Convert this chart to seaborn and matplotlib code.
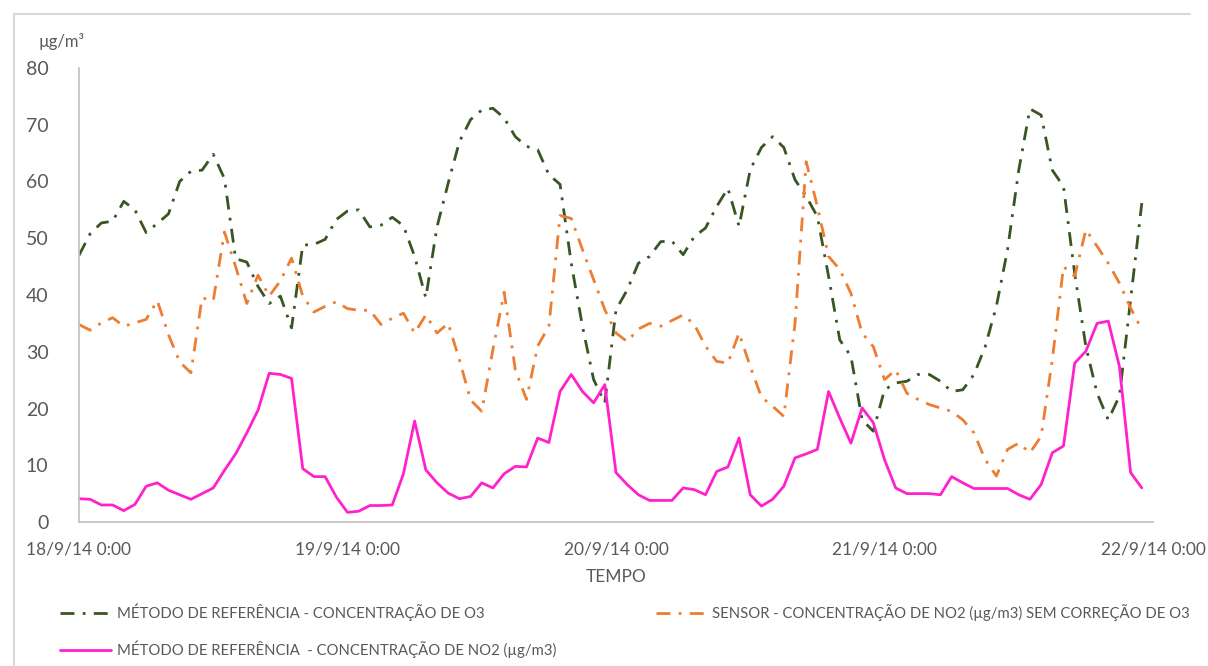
import numpy as np
import pandas as pd
import matplotlib
matplotlib.use('Agg')
import matplotlib.pyplot as plt
import seaborn as sns

# hourly readings, 18/9/14 0:00 onwards (96 hours)
o3_ref = [47.0, 50.8, 52.7, 53.0, 56.5, 55.0, 51.0, 52.6, 54.3, 60.0,
          61.8, 62.0, 64.8, 60.5, 46.4, 45.8, 41.5, 38.5, 39.8, 34.2,
          48.8, 48.9, 49.8, 53.3, 54.8, 55.0, 52.0, 52.3, 53.7, 52.2,
          46.8, 39.5, 52.0, 59.7, 67.0, 70.9, 72.6, 72.9, 71.2, 67.9,
          66.2, 65.6, 61.2, 59.5, 45.6, 34.5, 25.1, 21.0, 37.4, 40.9,
          45.6, 46.8, 49.4, 49.5, 47.1, 50.3, 51.8, 55.6, 58.8, 52.1,
          62.1, 66.0, 67.9, 66.0, 60.3, 57.4, 53.8, 43.3, 32.1, 29.2,
          18.0, 16.0, 23.3, 24.5, 24.8, 26.0, 26.0, 24.8, 23.0, 23.3,
          26.0, 30.9, 38.0, 48.0, 62.0, 72.8, 71.7, 62.0, 59.1, 43.8,
          30.9, 22.7, 18.0, 22.2, 39.2, 56.2]

no2_sensor = [34.8, 33.8, 35.1, 36.0, 34.5, 35.1, 35.7, 39.0, 33.0, 28.2,
              26.3, 39.5, 39.0, 51.1, 45.0, 38.5, 43.5, 39.8, 42.5, 46.5,
              39.8, 37.0, 38.0, 38.8, 37.6, 37.3, 37.3, 34.8, 35.9, 36.8,
              33.3, 36.5, 33.3, 35.0, 28.6, 21.5, 19.5, 30.4, 40.5, 26.8,
              21.6, 31.0, 34.5, 54.0, 53.5, 48.0, 42.7, 37.4, 33.3, 31.8,
              34.0, 35.0, 34.5, 35.5, 36.5, 34.8, 31.0, 28.3, 28.0, 33.3,
              27.4, 22.0, 20.4, 18.6, 35.0, 63.5, 55.6, 46.8, 44.5, 40.3,
              33.3, 30.9, 25.1, 26.8, 22.7, 21.6, 20.7, 20.1, 19.5, 18.0,
              15.7, 11.0, 8.1, 12.8, 13.9, 12.2, 15.1, 28.6, 45.0, 43.3,
              51.5, 48.6, 45.6, 42.1, 37.7, 33.9]

no2_ref = [4.1, 4.0, 3.0, 3.0, 2.0, 3.1, 6.3, 6.9, 5.6, 4.8,
           4.0, 5.0, 6.0, 9.1, 12.0, 15.7, 19.7, 26.2, 26.0, 25.3,
           9.4, 8.0, 8.0, 4.4, 1.7, 1.9, 2.9, 2.9, 3.0, 8.5,
           17.8, 9.2, 6.9, 5.1, 4.1, 4.5, 6.9, 6.0, 8.5, 9.8,
           9.7, 14.8, 14.0, 23.0, 26.0, 23.0, 21.0, 24.2, 8.7, 6.6,
           4.8, 3.8, 3.8, 3.8, 6.0, 5.7, 4.8, 8.9, 9.7, 14.8,
           4.8, 2.8, 4.0, 6.3, 11.3, 12.0, 12.8, 23.0, 18.3, 13.9,
           20.1, 17.5, 11.0, 6.0, 5.0, 5.0, 5.0, 4.8, 8.0, 6.9,
           5.9, 5.9, 5.9, 5.9, 4.8, 4.0, 6.6, 12.2, 13.4, 28.0,
           30.1, 35.0, 35.4, 27.4, 8.7, 6.0]

label_o3 = 'MÉTODO DE REFERÊNCIA - CONCENTRAÇÃO DE O3'
label_sensor = 'SENSOR - CONCENTRAÇÃO DE NO2 (µg/m3) SEM CORREÇÃO DE O3'
label_no2 = 'MÉTODO DE REFERÊNCIA  - CONCENTRAÇÃO DE NO2 (µg/m3)'

day_ticks = pd.date_range('2014-09-18', '2014-09-22', freq='D')
day_labels = ['18/9/14 0:00', '19/9/14 0:00', '20/9/14 0:00', '21/9/14 0:00', '22/9/14 0:00']

times = pd.date_range('2014-09-18 00:00', periods=len(o3_ref), freq='h')
df = pd.DataFrame({'tempo': times, 'o3': o3_ref, 'sensor': no2_sensor, 'no2': no2_ref})

sns.set_style('white')
plt.rcParams['font.family'] = ['Lato', 'DejaVu Sans']

grey = '#595959'
axis_grey = '#BFBFBF'

fig = plt.figure(figsize=(12.08, 6.66), dpi=100)
ax = fig.add_axes([79 / 1208, 1 - 522 / 666, (1153 - 79) / 1208, (522 - 68) / 666])

sns.lineplot(data=df, x='tempo', y='o3', ax=ax, color='#375623', lw=2,
             label=label_o3)
sns.lineplot(data=df, x='tempo', y='no2', ax=ax, color='#FF22CC', lw=2,
             label=label_no2)
sns.lineplot(data=df, x='tempo', y='sensor', ax=ax, color='#ED7D31', lw=2,
             label=label_sensor)
ax.lines[0].set_linestyle((0, (5, 3, 1, 3)))
ax.lines[2].set_linestyle((0, (5, 3, 1, 3)))

ax.set_xlim(day_ticks[0], day_ticks[-1])
ax.set_ylim(0, 80)
ax.set_xticks(day_ticks)
ax.set_xticklabels(day_labels)
ax.set_yticks(range(0, 81, 10))
ax.tick_params(axis='both', colors=axis_grey, labelcolor=grey,
               direction='in', length=5, width=1)
ax.tick_params(axis='x', pad=14, labelsize=12.5)
ax.tick_params(axis='y', pad=22, length=3, labelsize=14)
ax.set_xlabel('TEMPO', color=grey, fontsize=12.5, labelpad=8)
ax.set_ylabel('')
for s in ['top', 'right']:
    ax.spines[s].set_visible(False)
for s in ['left', 'bottom']:
    ax.spines[s].set_color(axis_grey)
    ax.spines[s].set_linewidth(1.2)

fig.text(38 / 1208, 1 - 42 / 666, 'µg/m³', color=grey, fontsize=12, va='center')

ax.get_legend().remove()
handles, labels = ax.get_legend_handles_labels()
fig.legend(handles, labels, ncol=2, loc='upper left',
           bbox_to_anchor=(47 / 1208, 1 - 590 / 666), frameon=False,
           fontsize=10.7, labelcolor=grey, handlelength=3.4,
           columnspacing=6.7, labelspacing=1.35, handletextpad=0.4)

# chart area border
fig.add_artist(plt.Line2D([14 / 1208, 1190 / 1208], [1 - 14 / 666, 1 - 14 / 666],
                          color='#D9D9D9', lw=1.5))
fig.add_artist(plt.Line2D([14 / 1208, 14 / 1208], [1 - 14 / 666, 0],
                          color='#D9D9D9', lw=1.5))

fig.savefig('out.png', dpi=100)
